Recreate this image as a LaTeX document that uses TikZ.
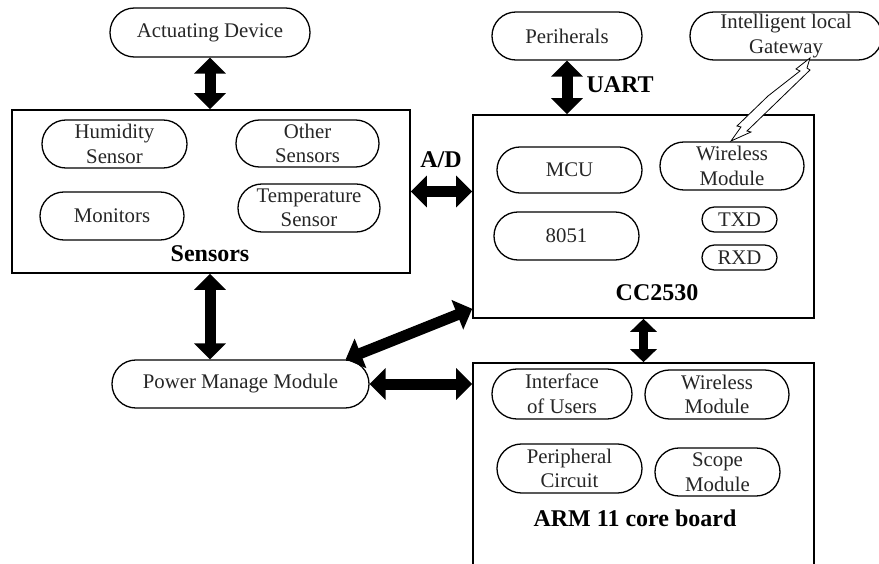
\documentclass[tikz,border=0pt]{standalone}
\usepackage{fontspec}
\setmainfont{Liberation Serif}
\usetikzlibrary{arrows.meta,calc}
\begin{document}
\begin{tikzpicture}[x=1pt,y=-1pt,
  pill/.style n args={3}{draw, line width=1.3pt, rectangle, inner sep=0pt, align=center,
     minimum width=#1, minimum height=#2, rounded corners=#3,
     font=\fontsize{20.8}{24.5}\selectfont, text=black!85},
  bigbox/.style={draw, line width=1.6pt, rectangle, inner sep=0pt},
  boldlab/.style={font=\fontsize{24}{28}\selectfont\bfseries},
  fat/.style={line width=11pt, {Triangle[width=31pt,length=16pt]}-{Triangle[width=31pt,length=16pt]}},
  fatsmall/.style={line width=9pt, {Triangle[width=26pt,length=13pt]}-{Triangle[width=26pt,length=13pt]}}
]
\useasboundingbox (0,0) rectangle (879,564);
\clip (0,0) rectangle (879,564);
\fill[white] (0,0) rectangle (879,564);

% Sensors block
\node[pill={200pt}{49pt}{24.4pt}] (act) at (210,32.5) {Actuating Device};
\node[bigbox, minimum width=398pt, minimum height=163pt] (sens) at (211,191.5) {};
\node[pill={145pt}{48pt}{23.9pt}] (hum) at (114.5,144) {Humidity\\Sensor};
\node[pill={143pt}{47pt}{23.4pt}] (oth) at (307.5,143.5) {Other\\Sensors};
\node[pill={144pt}{48pt}{23.9pt}] (mon) at (112,216) {Monitors};
\node[pill={142pt}{48pt}{23.9pt}] (tmp) at (309,208) {Temperature\\Sensor};
\node[boldlab] (senslab) at (210,254) {Sensors};

% CC2530 block
\node[pill={150pt}{48pt}{23.9pt}] (per) at (567,36) {Periherals};
\node[pill={192pt}{48pt}{23.9pt}] (gw) at (786,36) {Intelligent local\\Gateway};
\node[bigbox, minimum width=341pt, minimum height=203pt] (cc) at (643.5,216.5) {};
\node[pill={145pt}{46pt}{22.9pt}] (mcu) at (569.5,170) {MCU};
\node[pill={145pt}{48pt}{23.9pt}] (c51) at (566.5,236) {8051};
\node[pill={144pt}{48pt}{23.9pt}] (wl) at (732,166) {Wireless\\Module};
\node[pill={75pt}{25pt}{12.4pt}] (txd) at (739.5,219.5) {TXD};
\node[pill={75pt}{25pt}{12.4pt}] (rxd) at (739.5,257.5) {RXD};
\node[boldlab] (cclab) at (657,293) {CC2530};
\node[boldlab, anchor=west] (uart) at (583,85) {UART};
\node[boldlab] (ad) at (441,160) {A/D};

% wireless link (lightning)
\draw[line width=0.8pt, fill=white]
  (731,141) -- (741,127) -- (737,126) -- (768,96) -- (800,71) -- (796,69) -- (810,58)
  -- (807,68) -- (810,70) -- (779,100) -- (747,131) -- (751,132) -- cycle;

% Power & ARM
\node[pill={257pt}{48pt}{23.9pt}] (pow) at (240.5,384) {Power Manage Module};
\node[bigbox, minimum width=341pt, minimum height=237pt] (arm) at (643.5,481.5) {};
\node[pill={140pt}{50pt}{24.9pt}] (iou) at (562,394) {Interface\\of Users};
\node[pill={144pt}{49pt}{24.4pt}] (wl2) at (717,394.5) {Wireless\\Module};
\node[pill={145pt}{49pt}{24.4pt}] (pc) at (569.5,468.5) {Peripheral\\Circuit};
\node[pill={125pt}{48pt}{23.9pt}] (scm) at (717.5,472) {Scope\\Module};
\node[boldlab] (armlab) at (635,518) {ARM 11 core board};

% connectors
\draw[fat] (act.south) -- (sens.north -| act.south);
\draw[fat] (per.south) -- (cc.north -| per.south);
\draw[fat] (sens.east) -- (sens.east -| cc.west);
\draw[fat] (sens.south -| 210,0) -- (pow.north -| 210,0);
\coordinate (powne) at ($(pow.north east)+(-24,0)$);
\coordinate (ccsw) at ($(cc.south west)+(0,-10)$);
\draw[fat] (powne) -- (ccsw);
\draw[fat] (pow.east) -- (pow.east -| arm.west);
\draw[fatsmall] (cc.south) -- (arm.north);
\end{tikzpicture}
\end{document}
